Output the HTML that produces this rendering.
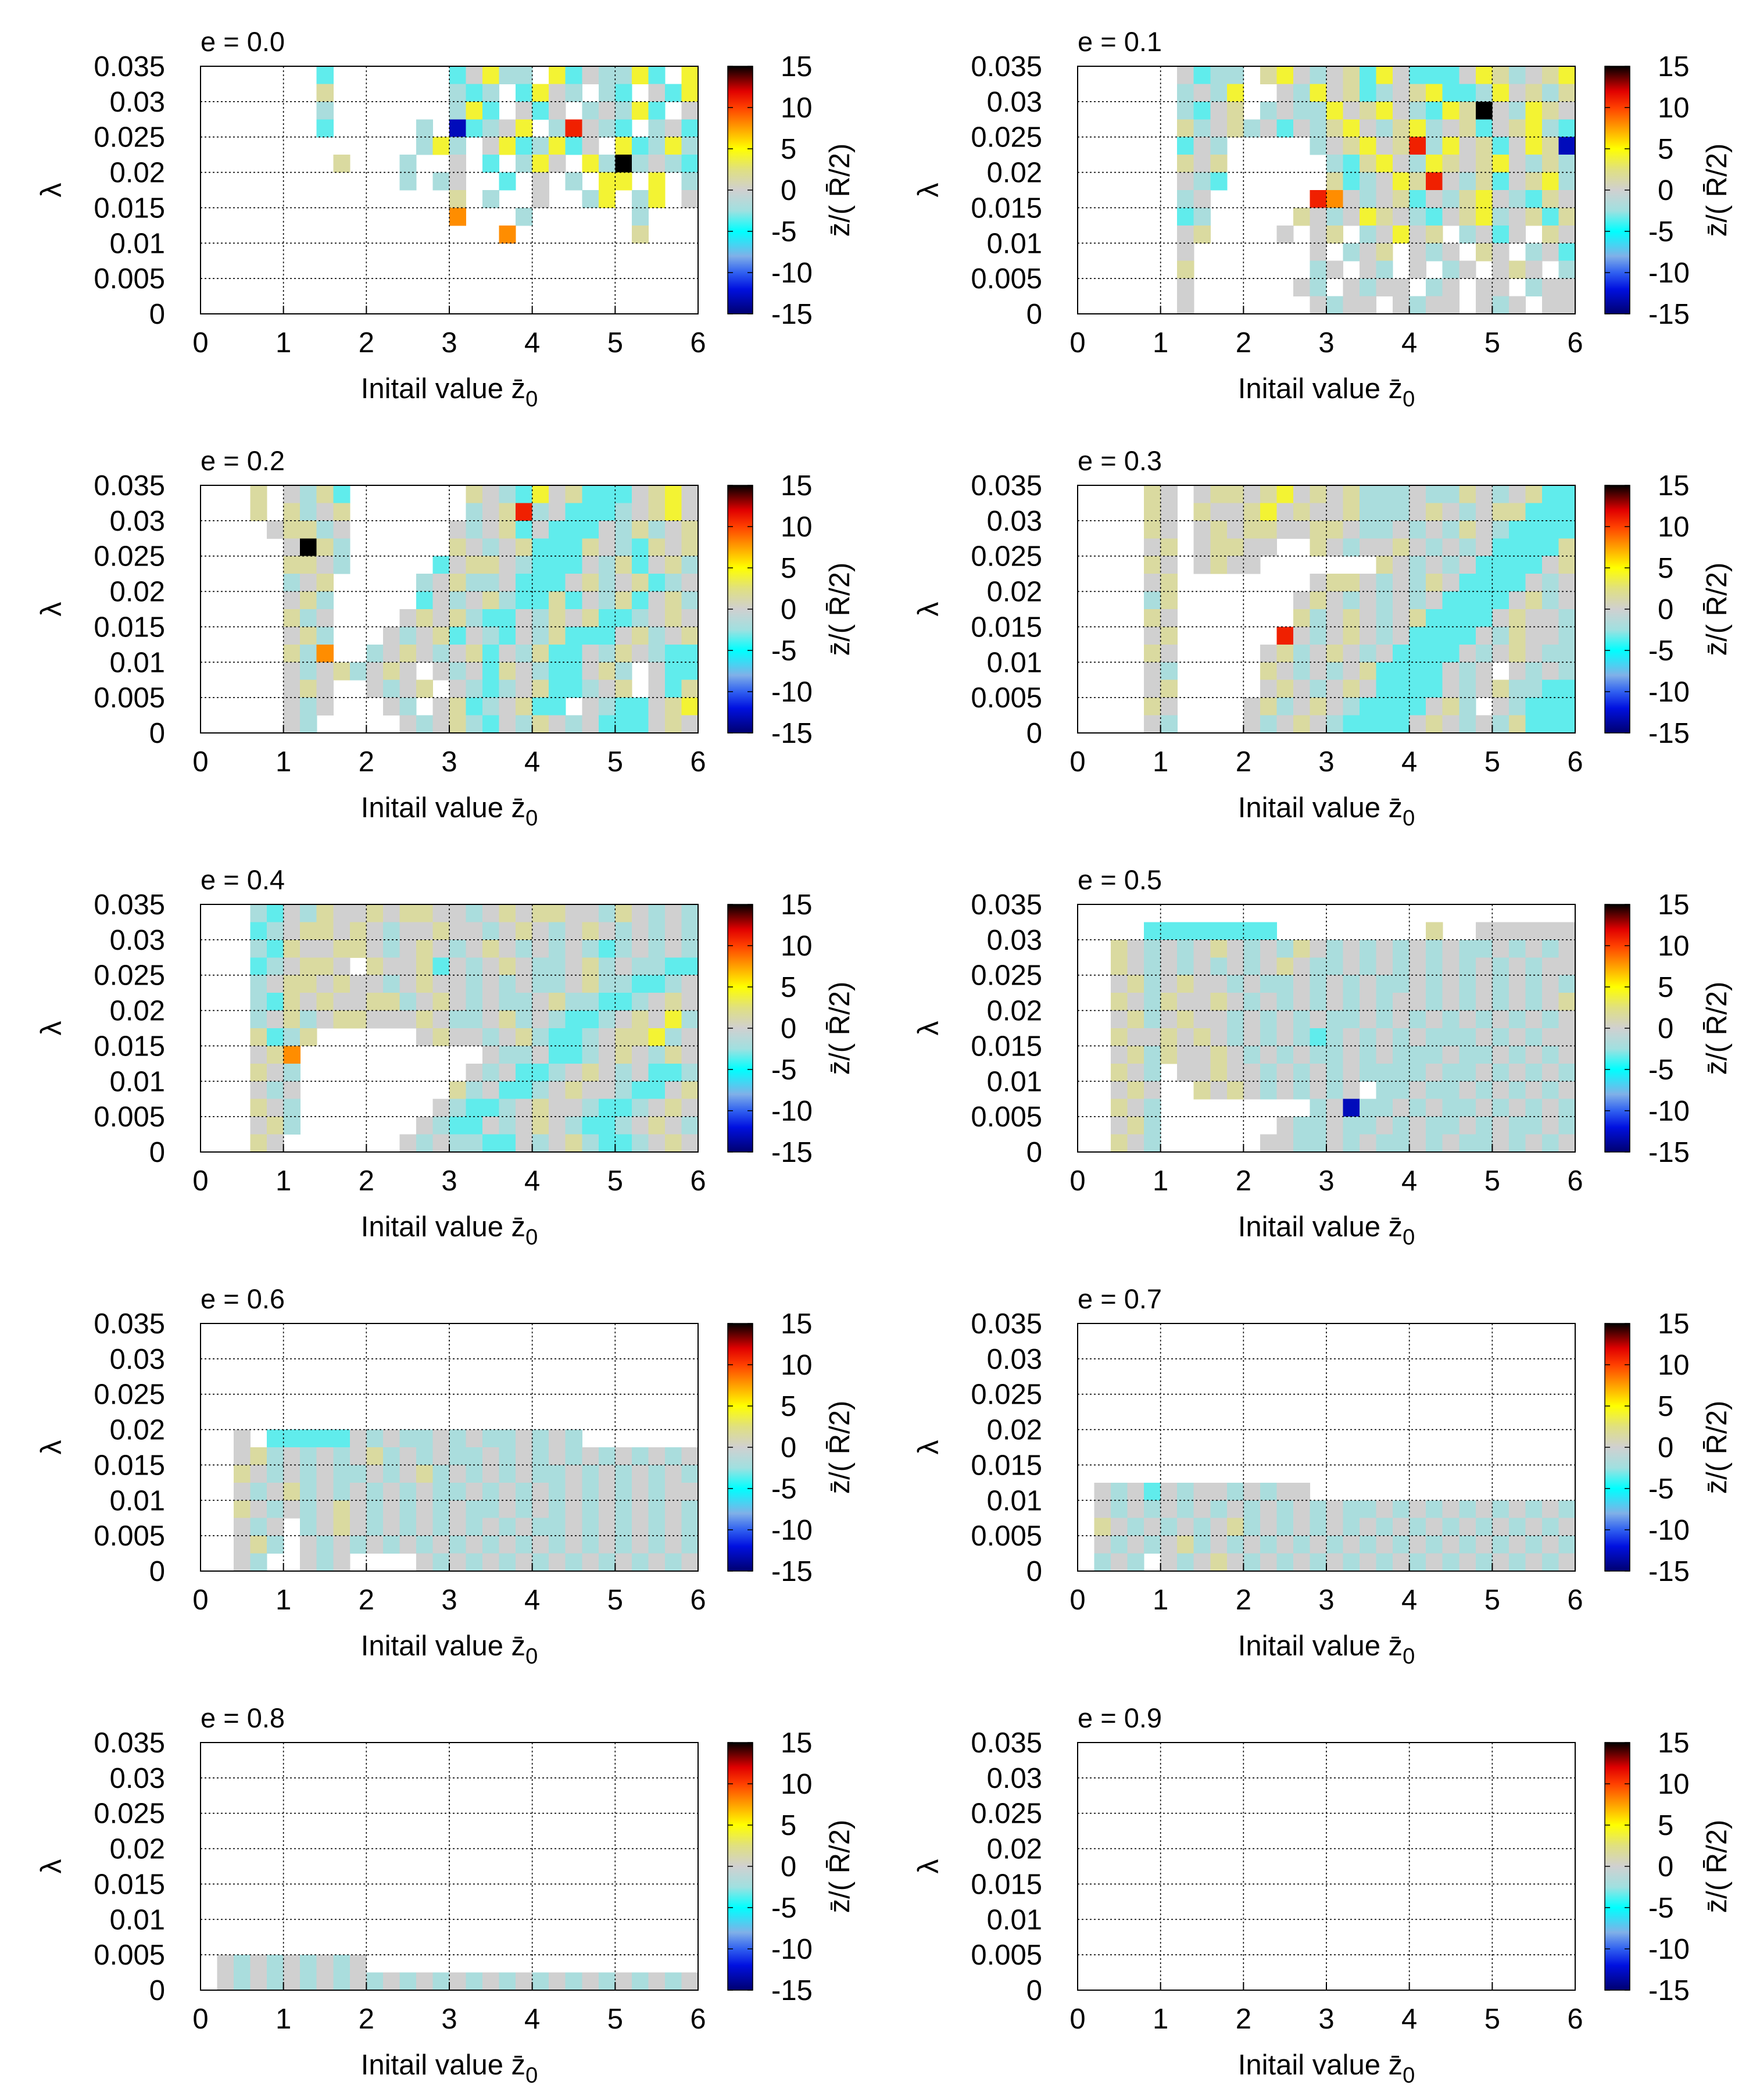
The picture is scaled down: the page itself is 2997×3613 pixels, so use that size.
<!DOCTYPE html>
<html><head><meta charset="utf-8"><title>z-bar maps for e = 0.0 to 0.9</title>
<style>
html,body{margin:0;padding:0;background:#fff;}
svg{display:block;font-family:"Liberation Sans",Arial,sans-serif;}
</style></head>
<body>
<svg id="chart" xmlns="http://www.w3.org/2000/svg" width="2997" height="3613" viewBox="0 0 2997 3613">
<defs>
<linearGradient id="cbgrad" x1="0" y1="1" x2="0" y2="0">
<stop offset="0" stop-color="#000070"/>
<stop offset="0.1" stop-color="#0010e0"/>
<stop offset="0.1667" stop-color="#3060f0"/>
<stop offset="0.2333" stop-color="#80b0e8"/>
<stop offset="0.3333" stop-color="#00ffff"/>
<stop offset="0.4167" stop-color="#a0e0e0"/>
<stop offset="0.5" stop-color="#d0d0d0"/>
<stop offset="0.5833" stop-color="#e0e080"/>
<stop offset="0.6667" stop-color="#ffff00"/>
<stop offset="0.75" stop-color="#ffa000"/>
<stop offset="0.8333" stop-color="#ff4000"/>
<stop offset="0.9" stop-color="#e00000"/>
<stop offset="1" stop-color="#000000"/>
</linearGradient>
</defs>
</svg>
<script>
// ---- data ----
const panelTitles = ["e = 0.0","e = 0.1","e = 0.2","e = 0.3","e = 0.4","e = 0.5","e = 0.6","e = 0.7","e = 0.8","e = 0.9"];
const xTicks = [0,1,2,3,4,5,6];
const yTicks = [0,0.005,0.01,0.015,0.02,0.025,0.03,0.035];
const yTickLabels = ["0","0.005","0.01","0.015","0.02","0.025","0.03","0.035"];
const cbTicks = [-15,-10,-5,0,5,10,15];
const cbTickLabels = ["-15","-10","-5","0","5","10","15"];
const xRange = [0,6];
const yRange = [0,0.035];
const cbRange = [-15,15];
// cell code -> z/(R/2) value
const codeValues = {'.':null,'C':-3.5,'b':-2,'g':0,'y':1.5,'Y':4,'O':8,'R':11,'K':15,'B':-13};

const grid_e00 = [
".......C.......CgYbb.YCgbbYC.Y",
".......y.......bCb.CYgb.bC.gCY",
".......b.......bYC.gCg.bgbYC.g",
".......C.....b.BCbgY.bRgbC.bgC",
".............bYb.gYCbYCg.YCbYb",
"........y...b..g.C.bYg.YbKbgbC",
"............b.bg..C.g.b.YY.Y.b",
"...............y.b..g..bY.bY.g",
"...............O...b......b...",
"..................O.......y...",
"..............................",
"..............................",
"..............................",
".............................."];
const grid_e01 = [
"......gCbb.yYgbgyCYgCCCgYybgyY",
"......bgbY..gbYgyCbgyYCCbYgyby",
"......bCgy.bgbbYgyYgbCYyKgbYyg",
"......ybgybgCgbyYgbyYbgyCgyYbC",
"......Cgb.....bgyYgyRbYgyCgYyB",
"......ygy......bCyYgbYygyYgbyb",
"......gbC......yCbgYyRgbyCgyYb",
"......bg......ROgbgyCgbyYgbCygy",
"......Cb.....ygbgYygbCgyYbgyCy",
"......gy....g.gy.bgYgy.bgCg.yg",
"......g.......g.bgy.gbg.yg.bgC",
"......y.......bg.gb.g.bg.gyg.b",
"......g......gb.gbgg.bg.gg.bgg",
"......g.......gbgg.gbgg.gbg.gg"];
const grid_e02 = [
"...y.gbyC.......ygbCYgyCCCgyYg",
"...y.ybgy.......bgyRbgCCCbgyYg",
"....gyybg......gbgyCgCCCgbybgy",
".....gKyb......ygbgyCCCygbCygy",
".....yygb.....CgyygbCCCgbyCgyb",
".....bgy.....bgybbgCCCgybgyCbg",
".....gyb.....CgbgybCCyCgbyCgyb",
".....ybg....gygybCCgbygyCCbgyg",
".....gyb...gbgyCgbCgbyCCCgybgy",
".....ybO..bgygbgyCgbyCCgbygbCC",
".....gbgybgyg.gbgCygbCCgyb.gCC",
".....gyg..gbgy.gbCbgyCCbgy.gCy",
".....gbg...gb.gyCbgyCC.gbCCgyY",
".....gb.....gbgybCgbygbgCCCgyg"];
const grid_e03 = [
"....yg.gyygyYgygybbbgbbygbgyCC",
"....yg.yggyYgyggybbbgygbgyyCCC",
"....yg.gygyyggyygbbgbgbygbCCCC",
"....gy.gyygg..ygbggygbgbgCCCCy",
"....yg.gygg.......ygbgbgCCCCgy",
"....gy........gyygbgbygCCCCgbg",
"....by.......gygbgbgbgCCCCgybg",
"....yg.......ybgygbgyCCCCgyggb",
"....gy......RgbgygbgCCCCgbyggb",
"....yg.....gybgygbgCCCCgbgygbb",
"....gb.....ygbgbgyCCCCgbg.gbgb",
"....gy.....gygbgygCCCCgbgybbCC",
"....yg....gybgygbCCCCgyb.gbCCC",
"....gb....gbgygbCCCCgygbgbyCCC"];
const grid_e04 = [
"...bCgbyggygyyggbgygyyggbygbgb",
"...Cbgyygygbggyggbgygbgygbgbgb",
"...bCyggyygbgygbgygbgbgbCbgbgb",
"...Cbgyyg.yggyCgbgygbbgybgbbCC",
"...bgyygyggbgyggbgbgbbgybbCCbg",
"...bCygyggyybgygbgbbgybbCCbgyg",
"...bgybgyygggygbbgybgbCCbgygYb",
"...yCby......gyggbgybCCbgyyYbg",
"...gyO...........gbbgCCbgygbyg",
"...ygb..........gbgCCbgygbgCCb",
"...gbg.........ybgCCbgyggbCCgy",
"...ygb........gbCCbgyggbCCbgyg",
"...gyb.......gbCCgbgygbCCbgygb",
"...yg.......gbgbbCCgbgybCCbgyg"];
const grid_e05 = [
"..............................",
"....CCCCCCCC.........y..gggggg",
"..ygbgbgygbgbygbgbgbgbgbbgbgbg",
"..ygbgbgbgbgygbbgbgbgbgbgbgbgg",
"..gybgyggbgbbgbgbgbbgbgbgbgbgb",
"..ygbyggygbgbgbgbgbggbgbgbgbgy",
"..gybgyggbgbgbgbbgbgbgbgbgbgbg",
"..yggygygbgbgbCbgbgbgbbbgbgbgg",
"..gybyggygbgbgbbgbgbbbgbbgbgbg",
"..ygb.ggyggbgbgbgbbbbgbbgbgbgb",
"..gyg..ygygbgbgbg.bbgbbgbgbgbg",
"..ygb.........bgBbbgbgbbgbgbgb",
"..gyb.......gbbgbbgbgbbgbgbbgb",
"..ygb......ggbbgbgbbgbgbbgbgbg"];
const grid_e06 = [
"..............................",
"..............................",
"..............................",
"..............................",
"..............................",
"..............................",
"..g.CCCCCgbgbbgbgbbgbgb.......",
"..gybgbgbgybgbgbbgbgbgbgbgbgbg",
"..ygbgbgbbgbgybgbgbgbbgbgbgbgb",
"..gbgybgbgbgbgbbgbgbgbgbgbgbgg",
"..ygbgbgygbgbgbgbbgbgbgbgbgbgb",
"..gbg.bgygbgbgbgbgbgbbgbgbgbgb",
"..gyb.gbgbgbgbgbgbgbgbgbgbgbgb",
"..gb..gbg....gbgbgbgbgbgbgbgbg"];
const grid_e07 = [
"..............................",
"..............................",
"..............................",
"..............................",
"..............................",
"..............................",
"..............................",
"..............................",
"..............................",
".gbgCgbggbgbgg................",
".gbgbgbgbgbgbgbgbbgbgbgbgbgbgb",
".ygbgbgbgybgbgbgbgbgbgbgbgbgbg",
".gbgbgybgbgbgbgbgbgbgbgbgbgbgb",
".bgb.gbgygbgbgbgbgbgbgbgbgbgbg"];
const grid_e08 = [
"..............................",
"..............................",
"..............................",
"..............................",
"..............................",
"..............................",
"..............................",
"..............................",
"..............................",
"..............................",
"..............................",
"..............................",
".gbgbgbgbg....................",
".gbgbgbgbgbgbgbgbgbgbgbgbgbgbg"];
const grid_e09 = [
"..............................",
"..............................",
"..............................",
"..............................",
"..............................",
"..............................",
"..............................",
"..............................",
"..............................",
"..............................",
"..............................",
"..............................",
"..............................",
".............................."];
const grids = [grid_e00,grid_e01,grid_e02,grid_e03,grid_e04,grid_e05,grid_e06,grid_e07,grid_e08,grid_e09];

// ---- palette ----
const palStops = [[-15,[0,0,112]],[-12,[0,16,224]],[-10,[48,96,240]],[-8,[128,176,232]],[-5,[0,255,255]],[-2.5,[160,224,224]],[0,[208,208,208]],[2.5,[224,224,128]],[5,[255,255,0]],[7.5,[255,160,0]],[10,[255,64,0]],[12,[224,0,0]],[15,[0,0,0]]];
function palette(v){
  if(v<=palStops[0][0]) return 'rgb('+palStops[0][1].join(',')+')';
  for(let i=1;i<palStops.length;i++){
    if(v<=palStops[i][0]){
      const a=palStops[i-1],b=palStops[i];const t=(v-a[0])/(b[0]-a[0]);
      const c=a[1].map((x,k)=>Math.round(x+(b[1][k]-x)*t));
      return 'rgb('+c.join(',')+')';
    }
  }
  return 'rgb(0,0,0)';
}

// ---- layout ----
const NS='http://www.w3.org/2000/svg';
const svg=document.getElementById('chart');
const L0=345, COLDX=1509, T0=114, ROWDY=721, PW=856, PH=426;
function mk(tag,attrs,parent){const e=document.createElementNS(NS,tag);for(const k in attrs)e.setAttribute(k,attrs[k]);(parent||svg).appendChild(e);return e;}

panelTitles.forEach((title,pi)=>{
  const left=L0+(pi%2)*COLDX, top=T0+Math.floor(pi/2)*ROWDY;
  const xs=z=>left+(z-xRange[0])/(xRange[1]-xRange[0])*PW;
  const ys=l=>top+(yRange[1]-l)/(yRange[1]-yRange[0])*PH;
  const cbL=left+907, cbW=43;
  const cs=v=>top+(cbRange[1]-v)/(cbRange[1]-cbRange[0])*PH;

  const g=mk('g',{});
  
  

  const grid=grids[pi];
  const nr=grid.length;
  const cellsG=mk('g',{'shape-rendering':'crispEdges'},g);
  
  
  for(let r=0;r<nr;r++){
    const row=grid[r].padEnd(30,'.').slice(0,30);
    const nc=row.length;
    const dz=(xRange[1]-xRange[0])/nc, dl=(yRange[1]-yRange[0])/nr;
    for(let c=0;c<nc;c++){
      const v=codeValues[row[c]];
      if(v===null||v===undefined) continue;
      const z0=xRange[0]+c*dz, l1=yRange[1]-r*dl;
      const x0=xs(z0), x1=xs(z0+dz), y0=ys(l1), y1=ys(l1-dl);
      const rc=mk('rect',{x:x0,y:y0,width:x1-x0+0.6,height:y1-y0+0.6,fill:palette(v)},cellsG);
      
      
    }
  }

  xTicks.forEach(t=>{
    if(t>xRange[0]&&t<xRange[1]){
      const ln=mk('line',{x1:xs(t),x2:xs(t),y1:top,y2:top+PH,stroke:'#000','stroke-width':1.6,'stroke-dasharray':'3,4'},g);
      
      
    }
    const tk=mk('line',{x1:xs(t),x2:xs(t),y1:top+PH,y2:top+PH-14,stroke:'#000','stroke-width':2},g);
    
    
    const tx=mk('text',{x:xs(t),y:top+PH+66,'font-size':49,'text-anchor':'middle',fill:'#000'},g);
    tx.textContent=String(t);
    
    
  });
  yTicks.forEach((t,i)=>{
    if(t>yRange[0]&&t<yRange[1]){
      const ln=mk('line',{x1:left,x2:left+PW,y1:ys(t),y2:ys(t),stroke:'#000','stroke-width':1.6,'stroke-dasharray':'3,4'},g);
      
      
    }
    const tx=mk('text',{x:left-61,y:ys(t)+17,'font-size':49,'text-anchor':'end',fill:'#000'},g);
    tx.textContent=yTickLabels[i];
    
    
  });
  const border=mk('rect',{x:left,y:top,width:PW,height:PH,fill:'none',stroke:'#000','stroke-width':2},g);
  
  

  const tt=mk('text',{x:left,y:top-26,'font-size':47,fill:'#000'},g);
  tt.textContent=title;
  
  

  const xl=mk('text',{x:left+PW/2,y:top+PH+145,'font-size':49,'text-anchor':'middle',fill:'#000'},g);
  xl.innerHTML='Initail value z&#772;<tspan dy="14" font-size="38">0</tspan>';
  
  

  const yl=mk('text',{x:left-254,y:top+PH/2+14,'font-size':50,'text-anchor':'middle',fill:'#000',transform:'rotate(-90 '+(left-254)+' '+(top+PH/2)+')'},g);
  yl.textContent='λ';
  
  

  const cb=mk('rect',{x:cbL,y:top,width:cbW,height:PH,fill:'url(#cbgrad)',stroke:'#000','stroke-width':1.5},g);
  
  
  cbTicks.forEach((v,i)=>{
    const t1=mk('line',{x1:cbL,x2:cbL+9,y1:cs(v),y2:cs(v),stroke:'#000','stroke-width':1.5},g);
    
    
    const t2=mk('line',{x1:cbL+cbW-9,x2:cbL+cbW,y1:cs(v),y2:cs(v),stroke:'#000','stroke-width':1.5},g);
    
    
    const lab=cbTickLabels[i];
    const tx=mk('text',{x:cbL+cbW+48-(lab[0]==='-'?16:0),y:cs(v)+17,'font-size':49,fill:'#000'},g);
    tx.textContent=lab;
    
    
  });
  const cx=cbL+cbW+150, cy=top+PH/2;
  const cl=mk('text',{x:cx,y:cy+16,'font-size':49,'text-anchor':'middle',fill:'#000',transform:'rotate(-90 '+cx+' '+cy+')'},g);
  cl.textContent='z\u0304/( R\u0304/2)';
  
  
});
</script>
</body></html>
